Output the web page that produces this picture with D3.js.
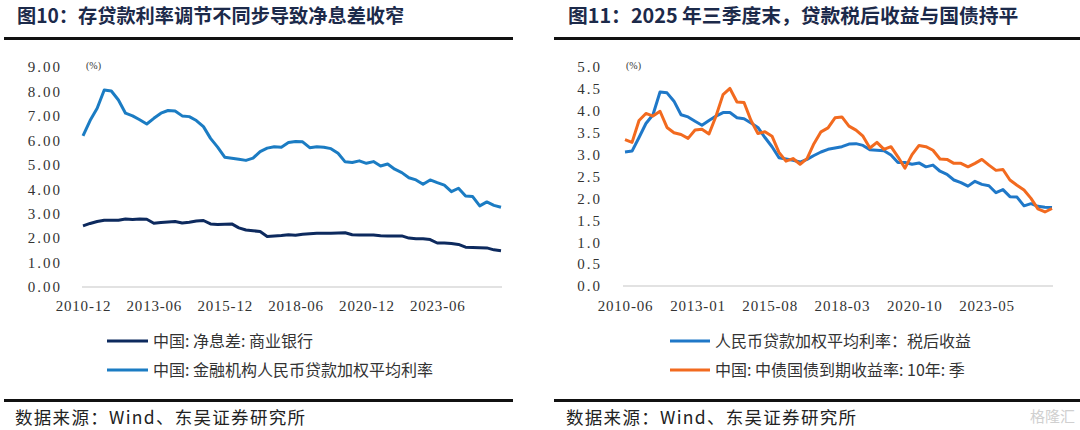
<!DOCTYPE html>
<html><head><meta charset="utf-8">
<script src="https://cdn.jsdelivr.net/npm/d3@7"></script>
<style>
html,body{margin:0;padding:0;background:#fff;}
svg{display:block;}
.cjk{font-family:"Noto Sans CJK SC","Noto Sans",sans-serif;}
.num{font-family:"Liberation Serif","DejaVu Serif",serif;}
</style></head>
<body>
<svg id="c" width="1080" height="430"></svg>
<script>
// ---------- Left chart data (quarterly, 2010-12 .. 2025-09) ----------
const leftStart = "2010-12";
const leftTicks = ["2010-12","2013-06","2015-12","2018-06","2020-12","2023-06"];
const leftYTicks = [0,1,2,3,4,5,6,7,8,9];
const loanRate = [6.18,6.81,7.31,8.06,8.02,7.65,7.11,7.00,6.84,6.67,
  6.90,7.11,7.22,7.20,7.00,6.97,6.81,6.56,6.08,5.72,
  5.31,5.27,5.23,5.18,5.27,5.54,5.68,5.74,5.72,5.91,
  5.95,5.94,5.70,5.74,5.72,5.66,5.47,5.12,5.09,5.16,
  5.06,5.13,4.95,5.03,4.82,4.68,4.47,4.38,4.20,4.38,
  4.27,4.17,3.90,4.04,3.72,3.70,3.32,3.48,3.34,3.26];
const nim = [2.50,2.60,2.68,2.73,2.73,2.73,2.78,2.76,2.78,2.77,
  2.61,2.64,2.66,2.68,2.62,2.65,2.70,2.72,2.58,2.56,
  2.57,2.58,2.42,2.33,2.30,2.27,2.07,2.09,2.11,2.14,
  2.12,2.16,2.18,2.20,2.20,2.20,2.21,2.22,2.14,2.13,
  2.13,2.13,2.10,2.09,2.09,2.09,2.00,1.97,1.97,1.94,
  1.80,1.80,1.78,1.74,1.63,1.62,1.61,1.60,1.52,1.48];
const leftNames = ["中国: 净息差: 商业银行","中国: 金融机构人民币贷款加权平均利率"];

// ---------- Right chart data (quarterly, 2010-06 .. 2025-09) ----------
const rightStart = "2010-06";
const rightTicks = ["2010-06","2013-01","2015-08","2018-03","2020-10","2023-05"];
const rightYTicks = [0,0.5,1,1.5,2,2.5,3,3.5,4,4.5,5];
const loanAfterTax = [3.06,3.08,3.39,3.71,3.91,4.43,4.41,4.22,3.91,3.86,
  3.76,3.67,3.78,3.88,3.96,3.96,3.84,3.82,3.72,3.62,
  3.39,3.18,2.93,2.90,2.87,2.83,2.89,2.98,3.06,3.12,
  3.15,3.18,3.24,3.25,3.21,3.11,3.10,3.09,2.99,2.82,
  2.82,2.78,2.81,2.72,2.76,2.62,2.55,2.42,2.36,2.28,
  2.39,2.32,2.29,2.13,2.20,2.04,2.03,1.83,1.88,1.82,
  1.80,1.79];
const cgb10y = [3.34,3.28,3.78,3.94,3.88,3.99,3.62,3.50,3.46,3.37,
  3.56,3.58,3.47,3.88,4.37,4.51,4.20,4.19,3.78,3.48,
  3.52,3.42,3.05,2.85,2.91,2.78,2.91,3.25,3.52,3.61,
  3.84,3.86,3.65,3.56,3.42,3.15,3.28,3.12,3.18,2.95,
  2.69,3.00,3.21,3.18,3.10,2.90,2.89,2.80,2.80,2.72,
  2.80,2.89,2.76,2.64,2.66,2.42,2.30,2.19,2.00,1.76,
  1.69,1.77];
const rightNames = ["人民币贷款加权平均利率：税后收益","中国: 中债国债到期收益率: 10年: 季"];

const titles = ["图10：存贷款利率调节不同步导致净息差收窄","图11：2025 年三季度末，贷款税后收益与国债持平"];
const source = "数据来源：Wind、东吴证券研究所";

const cNavy = "#0d2a5e", cBlue = "#1b7cc3", cBlue2 = "#1f78c8", cOrange = "#f26a1f";

const svg = d3.select("#c");
const parse = d3.timeParse("%Y-%m");
const fmtM = d3.timeFormat("%Y-%m");

// ---------- frames ----------
function frame(x0, x1, titleX, title, tsize) {
  svg.append("text").attr("class","cjk").attr("x",titleX).attr("y",23)
    .attr("font-size",tsize).attr("font-weight",700).attr("fill","#1c2a4a").text(title);
  svg.append("line").attr("x1",x0).attr("x2",x1).attr("y1",38.5).attr("y2",38.5)
    .attr("stroke","#111").attr("stroke-width",3);
  svg.append("line").attr("x1",x0).attr("x2",x1).attr("y1",400.5).attr("y2",400.5)
    .attr("stroke","#111").attr("stroke-width",3);
  svg.append("text").attr("class","cjk").attr("x",titleX-2).attr("y",424)
    .attr("font-size",17.5).attr("letter-spacing",1.3).attr("fill","#222").text(source);
}
frame(4, 513, 17, titles[0], 19.2);
frame(554, 1080, 568, titles[1], 19.8);

function styleNum(g, ls) {
  g.select(".domain").remove();
  g.selectAll("text").attr("class","num").attr("font-size",15).attr("fill","#333").attr("letter-spacing",ls);
}

// ---------- left chart ----------
const leftCats = d3.range(loanRate.length).map(i => fmtM(d3.timeMonth.offset(parse(leftStart), i*3)));
const xL = d3.scalePoint().domain(leftCats).range([83, 501]);
const yL = d3.scaleLinear().domain([0, 9]).range([287, 67]);

svg.append("line").attr("x1",82).attr("x2",502).attr("y1",yL(0)).attr("y2",yL(0))
  .attr("stroke","#d9d9d9").attr("stroke-width",1.5);

const gyL = svg.append("g").attr("transform","translate(65,0)")
  .call(d3.axisLeft(yL).tickValues(leftYTicks).tickFormat(d3.format(".2f")).tickSize(0).tickPadding(3));
styleNum(gyL, 2);

const gxL = svg.append("g").attr("transform",`translate(0,${yL(0)})`)
  .call(d3.axisBottom(xL).tickValues(leftTicks).tickSize(0).tickPadding(13));
styleNum(gxL, 0.8);

svg.append("text").attr("class","num").attr("x",86).attr("y",69).attr("font-size",10).attr("fill","#333").text("(%)");

const lineL = vals => d3.line().x((d,i)=>xL(leftCats[i])).y(d=>yL(d))(vals);
svg.append("path").attr("d",lineL(loanRate)).attr("fill","none").attr("stroke",cBlue).attr("stroke-width",3).attr("stroke-linejoin","round");
svg.append("path").attr("d",lineL(nim)).attr("fill","none").attr("stroke",cNavy).attr("stroke-width",3).attr("stroke-linejoin","round");

// left legend
[[leftNames[0], cNavy],[leftNames[1], cBlue]].forEach(([n,c],k)=>{
  const y = 341 + k*29;
  svg.append("line").attr("x1",107).attr("x2",148).attr("y1",y).attr("y2",y).attr("stroke",c).attr("stroke-width",3);
  svg.append("text").attr("class","cjk").attr("x",153).attr("y",y+5.5).attr("font-size",16).attr("fill","#333").text(n);
});

// ---------- right chart ----------
const rightDates = d3.range(loanAfterTax.length).map(i => d3.timeMonth.offset(parse(rightStart), i*3));
const xR = d3.scaleTime().domain([rightDates[0], rightDates[rightDates.length-1]]).range([625, 1052]);
const yR = d3.scaleLinear().domain([0, 5]).range([286, 67]);

svg.append("line").attr("x1",623).attr("x2",1053).attr("y1",yR(0)).attr("y2",yR(0))
  .attr("stroke","#d9d9d9").attr("stroke-width",1.5);

const gyR = svg.append("g").attr("transform","translate(605,0)")
  .call(d3.axisLeft(yR).tickValues(rightYTicks).tickFormat(d3.format(".1f")).tickSize(0).tickPadding(3));
styleNum(gyR, 2);

const gxR = svg.append("g").attr("transform",`translate(0,${yR(0)})`)
  .call(d3.axisBottom(xR).tickValues(rightTicks.map(parse)).tickFormat(fmtM).tickSize(0).tickPadding(14));
styleNum(gxR, 0.8);

svg.append("text").attr("class","num").attr("x",626).attr("y",69).attr("font-size",10).attr("fill","#333").text("(%)");

const lineR = vals => d3.line().x((d,i)=>xR(rightDates[i])).y(d=>yR(d))(vals);
svg.append("path").attr("d",lineR(loanAfterTax)).attr("fill","none").attr("stroke",cBlue2).attr("stroke-width",3).attr("stroke-linejoin","round");
svg.append("path").attr("d",lineR(cgb10y)).attr("fill","none").attr("stroke",cOrange).attr("stroke-width",3).attr("stroke-linejoin","round");

[[rightNames[0], cBlue2],[rightNames[1], cOrange]].forEach(([n,c],k)=>{
  const y = 341 + k*29;
  svg.append("line").attr("x1",670).attr("x2",710).attr("y1",y).attr("y2",y).attr("stroke",c).attr("stroke-width",3);
  svg.append("text").attr("class","cjk").attr("x",715).attr("y",y+5.5).attr("font-size",16).attr("fill","#333").text(n);
});

// watermark
svg.append("text").attr("class","cjk").attr("x",1075).attr("y",422).attr("text-anchor","end")
  .attr("font-size",15).attr("fill","#d0d0d0").text("格隆汇");
</script>
</body></html>
